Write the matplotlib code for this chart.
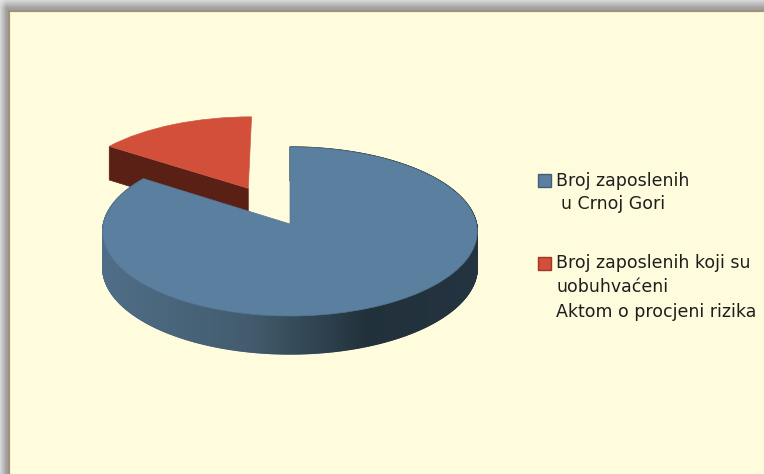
import numpy as np
import matplotlib
matplotlib.use("Agg")
import matplotlib.pyplot as plt
from matplotlib.transforms import Transform
from matplotlib.patches import Polygon, Rectangle
from matplotlib.collections import PolyCollection

# ---- data ----
categories = ["Broj zaposlenih\n u Crnoj Gori",
              "Broj zaposlenih koji su\nuobuhvaćeni\nAktom o procjeni rizika"]
values = [84.6, 15.4]
explode = [0.0, 0.5]
top_colors = ["#5B7F9E", "#D24F39"]
edge_colors = ["#557795", "#CC5A45"]
cut_colors = ["#2F4657", "#5A1F15"]
swatch_edges = ["#3F5F7A", "#9C3A2A"]
CREAM = "#FFFCDE"

W, H = 764, 474
CX, CY, RX, RY, K = 290.0, 224.0, 186.5, 83.8, 0.0888
DEPTH, KD = 35.7, 0.06


class Tilt(Transform):
    """Perspective view of the unit-disc pie plane, output in pixel-like data units."""
    input_dims = output_dims = 2
    is_affine = False

    def transform_non_affine(self, xy):
        xy = np.asarray(xy, float)
        w = 1 + K * xy[:, 1]
        return np.column_stack([CX + RX * xy[:, 0] / w, CY - RY * xy[:, 1] / w])


tilt = Tilt()


def project(u, v, low=False):
    p = tilt.transform_non_affine(np.column_stack([u, v]))
    if low:
        p[:, 1] += DEPTH / (1 + KD * np.asarray(v))
    return p


def lerp(a, b, t):
    return tuple(x + (y - x) * t for x, y in zip(a, b))


def wall_color(x):
    stops = [(103, (0.31, 0.43, 0.53)), (250, (0.26, 0.36, 0.43)),
             (370, (0.13, 0.19, 0.23)), (478, (0.14, 0.20, 0.25))]
    for (x0, c0), (x1, c1) in zip(stops, stops[1:]):
        if x <= x1:
            return lerp(c0, c1, max(0, (x - x0) / (x1 - x0)))
    return stops[-1][1]


fig = plt.figure(figsize=(W / 100, H / 100), dpi=100, facecolor=CREAM)
ax = fig.add_axes([0, 0, 1, 1])

wedges, _ = ax.pie(values, explode=explode, startangle=90, counterclock=False,
                   colors=top_colors, radius=1.0)
ax.set_aspect("auto")
ax.axis("off")

# background: drop shadow on the top and left, cream panel with brown border
yy, xx = np.mgrid[0:H, 0:W]
dx = np.clip(xx / 8.0, 0, 1)
dy = np.clip(yy / 10.0, 0, 1)
shade = np.minimum(dx + 0.25, 1) * np.minimum(dy + 0.25, 1)
gray = 232 - 72 * shade
bg = np.dstack([gray, gray, gray]) / 255.0
ax.imshow(bg, extent=(0, W, H, 0), aspect="auto", zorder=0, interpolation="nearest")
ax.set_xlim(0, W)
ax.set_ylim(H, 0)
ax.add_patch(Rectangle((9, 11), W + 5, H + 5, facecolor=CREAM, edgecolor="#A39078",
                       linewidth=1.6, zorder=0.5))

red, blue = wedges[1], wedges[0]

# red (exploded) slice: the visible cut face, then its top
cu, cv = red.center
t1 = np.radians(red.theta1)
t2 = np.radians(red.theta2)
th_left = t1 if np.cos(t1) < np.cos(t2) else t2
u = np.array([cu, cu + np.cos(th_left)])
v = np.array([cv, cv + np.sin(th_left)])
face = np.vstack([project(u, v), project(u[::-1], v[::-1], low=True)])
ax.add_patch(Polygon(face, closed=True, facecolor=cut_colors[1], edgecolor=cut_colors[1],
                     linewidth=0.5, zorder=2))
red.set_transform(tilt + ax.transData)
red.set_edgecolor(edge_colors[1])
red.set_linewidth(0.5)
red.set_zorder(3)

# blue slice: shaded strips for the curved wall, then its top
ths = np.radians(np.linspace(blue.theta1, blue.theta2, 721))
u = np.cos(ths)
v = np.sin(ths)
top = project(u, v)
low = project(u, v, low=True)
quads = [np.array([top[i], top[i + 1], low[i + 1], low[i]]) for i in range(len(ths) - 1)]
cols = [wall_color(q[:, 0].mean()) for q in quads]
ax.add_collection(PolyCollection(quads, facecolors=cols, edgecolors=cols, linewidths=1.0,
                                 antialiaseds=True, zorder=4))
blue.set_transform(tilt + ax.transData)
blue.set_edgecolor(edge_colors[0])
blue.set_linewidth(0.5)
blue.set_zorder(5)

# legend drawn by hand so the swatch sits against the first line of each entry
font = dict(family="DejaVu Sans", fontsize=12.5, color="#1E1E1E", va="center", ha="left", zorder=6)
line_y = [[181, 204], [263, 287, 312]]
line_x = [[556, 561], [556, 556, 556]]
swatch_y = [174, 257]
for i, label in enumerate(categories):
    ax.add_patch(Rectangle((537.5, swatch_y[i]), 13, 12.5, facecolor=top_colors[i],
                           edgecolor=swatch_edges[i], linewidth=1.0, zorder=6))
    for line, x, y in zip(label.split("\n"), line_x[i], line_y[i]):
        ax.text(x, y, line.strip(), **font)

fig.savefig("out.png", dpi=100, facecolor=fig.get_facecolor())
